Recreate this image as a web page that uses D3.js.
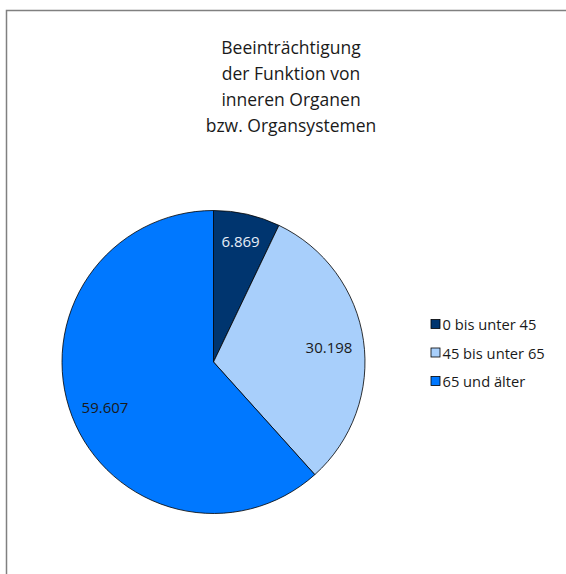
<!DOCTYPE html>
<html><head><meta charset="utf-8">
<script src="https://cdn.jsdelivr.net/npm/d3@7"></script>
<style>body{margin:0;background:#fff}svg{display:block}</style>
</head><body>
<script>
const categories = ["0 bis unter 45", "45 bis unter 65", "65 und älter"];
const values = [6.869, 30.198, 59.607];
const valueLabels = ["6.869", "30.198", "59.607"];
const colors = ["#00356f", "#a8cffb", "#0078ff"];
const labelColors = ["#e6eef8", "#1a1a1a", "#1a1a1a"];
const titleLines = ["Beeinträchtigung", "der Funktion von", "inneren Organen", "bzw. Organsystemen"];

const W = 566, H = 574;
const font = "'Open Sans', 'Noto Sans', sans-serif";
const svg = d3.select("body").append("svg").attr("width", W).attr("height", H);

svg.append("rect").attr("x", 6.5).attr("y", 10.5).attr("width", 700).attr("height", 700)
  .attr("fill", "none").attr("stroke", "#808080").attr("stroke-width", 1.5);

svg.append("g").selectAll("text").data(titleLines).join("text")
  .attr("x", 291).attr("y", (d, i) => 54 + i * 26)
  .attr("text-anchor", "middle").attr("font-family", font).attr("font-size", 17.5)
  .attr("fill", "#1a1a1a").text(d => d);

const cx = 213.5, cy = 362, r = 151.5;
const pie = d3.pie().sort(null).value(d => d)(values);
const arc = d3.arc().innerRadius(0).outerRadius(r);
const g = svg.append("g").attr("transform", `translate(${cx},${cy})`);
g.selectAll("path").data(pie).join("path")
  .attr("d", arc).attr("fill", (d, i) => colors[i])
  .attr("stroke", "#000").attr("stroke-width", 0.8);

const labelPos = [[27, -121], [115.5, -15], [-108.5, 45]];
g.selectAll("text").data(pie).join("text")
  .attr("x", (d, i) => labelPos[i][0]).attr("y", (d, i) => labelPos[i][1])
  .attr("text-anchor", "middle").attr("dominant-baseline", "central")
  .attr("font-family", font).attr("font-size", 15)
  .attr("fill", (d, i) => labelColors[i]).text((d, i) => valueLabels[i]);

const leg = svg.append("g").attr("transform", "translate(431,324)");
const rows = leg.selectAll("g").data(categories).join("g")
  .attr("transform", (d, i) => `translate(0,${i * 28.5})`);
rows.append("rect").attr("x", 0).attr("y", -4.5).attr("width", 9).attr("height", 9)
  .attr("fill", (d, i) => colors[i]).attr("stroke", "#000").attr("stroke-width", 0.8);
rows.append("text").attr("x", 11.5).attr("y", 0).attr("dominant-baseline", "central")
  .attr("font-family", font).attr("font-size", 14.7).attr("fill", "#1a1a1a").text(d => d);
</script>
</body></html>
